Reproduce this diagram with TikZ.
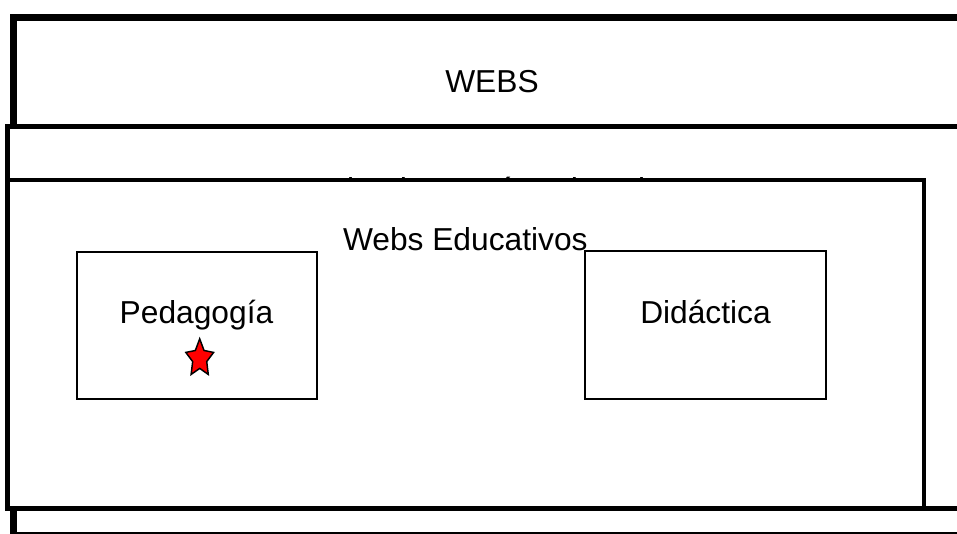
\documentclass[tikz,border=0pt]{standalone}
\usepackage{fontspec}
\setmainfont{Liberation Sans}
\begin{document}
\begin{tikzpicture}[x=0.75pt,y=-0.75pt,
  frame/.style={draw=black, fill=white, rectangle, inner sep=0pt, outer sep=0pt, anchor=north west},
  lbl/.style={font=\fontsize{23.8}{28}\selectfont, inner sep=0pt, outer sep=0pt},
  starstyle/.style={draw=black, fill=red, line width=1.1pt, line join=miter}
]
\useasboundingbox (0,0) rectangle (957,533);
\clip (0,0) rectangle (957,533);
\fill[white] (0,0) rectangle (957,533);
% outer frame WEBS
\node[frame, line width=5.25pt, minimum width=717.75pt, minimum height=388.5pt] (webs) at (13.5,17.5) {};
\node[lbl, anchor=base] (websT) at (492,92) {WEBS};
% second frame (title hidden behind third frame)
\node[frame, line width=3.75pt, minimum width=744.4pt, minimum height=286.5pt] (interes) at (7.5,126) {};
\node[lbl, anchor=base west] (interesT) at (300,200.5) {Webs de Interés Educativo};
% third frame
\node[frame, line width=3pt, minimum width=687pt, minimum height=246pt] (educ) at (7.5,180) {};
% inner boxes
\node[frame, line width=1.5pt, minimum width=180pt, minimum height=110.25pt] (ped) at (77,252) {};
\node[frame, line width=1.5pt, minimum width=180.75pt, minimum height=111pt] (did) at (585,251) {};
\node[lbl, anchor=base west] (educT) at (343,250) {Webs Educativos};
\node[lbl, anchor=base] (pedT) at (196.5,323) {Pedagogía};
\node[lbl, anchor=base] (didT) at (705.5,323) {Didáctica};
% star
\begin{scope}[shift={(199.7,358.5)}]
\draw[starstyle] (-90:14.6 and 19.7) -- (-54:7.4 and 9.9) -- (-18:14.6 and 19.7) -- (18:7.4 and 9.9)
  -- (54:14.6 and 19.7) -- (90:7.4 and 9.9) -- (126:14.6 and 19.7) -- (162:7.4 and 9.9)
  -- (198:14.6 and 19.7) -- (234:7.4 and 9.9) -- cycle;
\end{scope}
\end{tikzpicture}
\end{document}
